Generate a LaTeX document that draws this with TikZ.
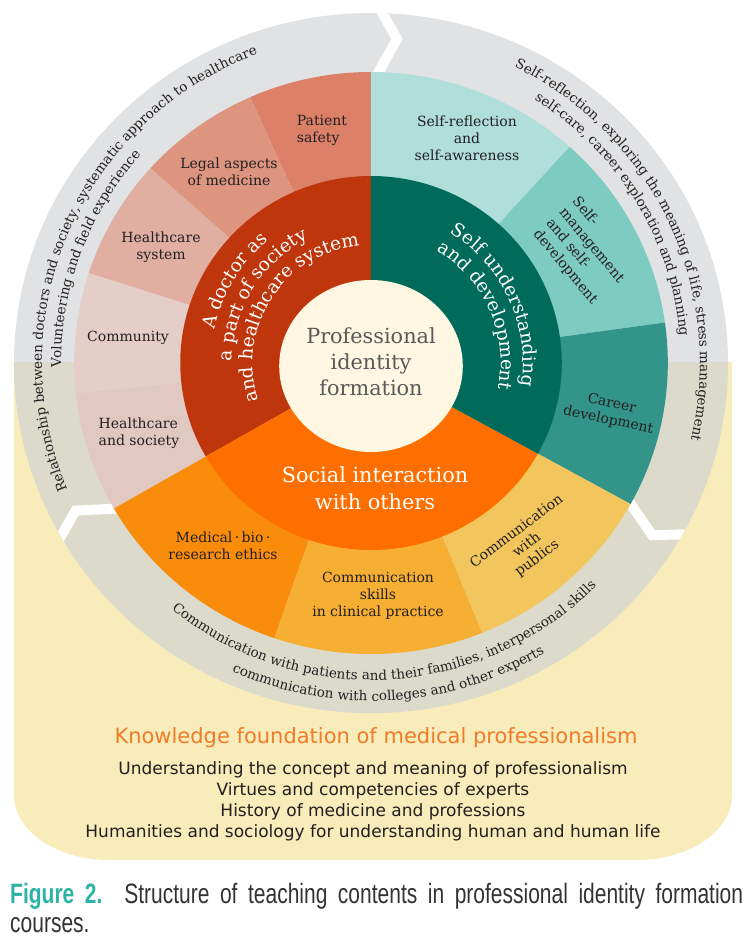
\documentclass[tikz,border=0pt]{standalone}
\usepackage{fontspec}
\setmainfont{DejaVu Serif}
\newfontfamily\slabfont{DejaVu Serif}
\newfontfamily\pifsans{DejaVu Sans}
\newfontfamily\capfont[FakeStretch=0.75]{Liberation Sans}
\usetikzlibrary{decorations.text}
\definecolor{pifRingGray}{HTML}{E1E2E4}
\definecolor{pifRingLow}{HTML}{DCDACB}
\definecolor{pifBeige}{HTML}{F8ECBA}
\definecolor{pifSafety}{HTML}{DC8068}
\definecolor{pifLegal}{HTML}{DD9580}
\definecolor{pifSystem}{HTML}{E0AFA1}
\definecolor{pifCommunity}{HTML}{E6CEC8}
\definecolor{pifSociety}{HTML}{E1C9C1}
\definecolor{pifRedDark}{HTML}{BF360C}
\definecolor{pifReflect}{HTML}{B0DEDA}
\definecolor{pifManage}{HTML}{7ECBC1}
\definecolor{pifCareer}{HTML}{33958A}
\definecolor{pifTealDark}{HTML}{006B5B}
\definecolor{pifEthics}{HTML}{F98D0B}
\definecolor{pifSkills}{HTML}{F6AE33}
\definecolor{pifPublics}{HTML}{F2C55D}
\definecolor{pifOrangeDark}{HTML}{FE6F00}
\definecolor{pifCream}{HTML}{FFF7E1}
\definecolor{pifInk}{HTML}{231F20}
\definecolor{pifCoreText}{HTML}{595959}
\definecolor{pifHeading}{HTML}{F07B28}
\definecolor{pifCaption}{HTML}{2BB3A6}
\definecolor{pifCaptionText}{HTML}{333333}
\newcommand{\pifRingFont}{\slabfont\fontsize{13.5}{15}\selectfont\color{pifInk}}
\newcommand{\pifInnerFont}{\slabfont\fontsize{18.5}{20}\selectfont\color{white}}
% annular sector: colour, start angle, end angle, inner radius, outer radius
\newcommand{\pifsector}[5]{\fill[#1] (#2:#4) arc[start angle=#2, end angle=#3, radius=#4] -- (#3:#5) arc[start angle=#3, end angle=#2, radius=#5] -- cycle;}
% white chevron cut into the outer ring
\newcommand{\pifchevron}[1]{\draw[white, line width=10pt] (#1:282pt) -- (#1-4:325pt) -- (#1:364pt);}
\tikzset{
  seglabel/.style={font=\slabfont\fontsize{14}{17}\selectfont, text=pifInk, align=center, inner sep=0pt},
  corelabel/.style={font=\slabfont\fontsize{20.8}{26}\selectfont, text=pifCoreText, align=center, inner sep=0pt},
  sociallabel/.style={font=\slabfont\fontsize{20.8}{27}\selectfont, text=white, align=center, inner sep=0pt},
  curvetext/.style={decorate, decoration={text along path, text align=center, text={#1}}},
  headline/.style={font=\pifsans\fontsize{21}{24}\selectfont, text=pifHeading, inner sep=0pt},
  topiclines/.style={font=\pifsans\fontsize{17}{21}\selectfont, text=pifInk, align=center, inner sep=0pt},
  captionline/.style={font=\capfont\fontsize{28}{30}\selectfont, text=pifCaptionText, inner sep=0pt, anchor=base west}
}
\begin{document}
\begin{tikzpicture}[x=1pt, y=1pt]
  \useasboundingbox (-371,363) rectangle (382,-575);

  % knowledge foundation panel
  \fill[pifBeige] (-357,1) -- (-357,-432) arc[start angle=180, end angle=270, x radius=95pt, y radius=65pt]
    -- (266,-497) arc[start angle=270, end angle=360, x radius=95pt, y radius=65pt] -- (361,1) -- cycle;

  \begin{scope}[xscale=1.02]
    % outer ring
    \fill[pifRingGray] (0,0) circle[radius=350pt];
    \begin{scope}
      \clip (-400,1) rectangle (400,-400);
      \fill[pifRingLow] (0,0) circle[radius=350pt];
    \end{scope}
    \begin{scope}
      \clip (0,0) circle[radius=350pt];
      \pifchevron{89.5}
      \pifchevron{-28}
      \pifchevron{211}
    \end{scope}

    % outer segments
    \pifsector{pifSafety}{90}{114}{186pt}{291pt}
    \pifsector{pifLegal}{114}{138}{186pt}{291pt}
    \pifsector{pifSystem}{138}{162}{186pt}{291pt}
    \pifsector{pifCommunity}{162}{186}{186pt}{291pt}
    \pifsector{pifSociety}{186}{210}{186pt}{291pt}
    \pifsector{pifReflect}{48}{90}{186pt}{291pt}
    \pifsector{pifManage}{8}{48}{186pt}{291pt}
    \pifsector{pifCareer}{-29}{8}{186pt}{291pt}
    \pifsector{pifEthics}{210}{251}{186pt}{291pt}
    \pifsector{pifSkills}{251}{292}{186pt}{291pt}
    \pifsector{pifPublics}{292}{331}{186pt}{291pt}

    % inner ring
    \fill[pifRedDark] (0,0) -- (90:187pt) arc[start angle=90, end angle=210, radius=187pt] -- cycle;
    \fill[pifOrangeDark] (0,0) -- (210:187pt) arc[start angle=210, end angle=331, radius=187pt] -- cycle;
    \fill[pifTealDark] (0,0) -- (-29:187pt) arc[start angle=-29, end angle=90, radius=187pt] -- cycle;
    \fill[pifCream] (0,-3) ellipse[x radius=90pt, y radius=86pt];
  \end{scope}

  % texts along the outer ring
  \path[curvetext={|\pifRingFont|Relationship between doctors and society, systematic approach to healthcare}]
    (226.4:329pt) arc[start angle=226.4, end angle=86.4, radius=329pt];
  \path[curvetext={|\pifRingFont|Volunteering and field experience}]
    (219.4:310pt) arc[start angle=219.4, end angle=99.4, radius=310pt];
  \path[curvetext={|\pifRingFont|Self-reflection, exploring the meaning of life, stress management}]
    (95.3:329pt) arc[start angle=95.3, end angle=-44.7, radius=329pt];
  \path[curvetext={|\pifRingFont|self-care, career exploration and planning}]
    (91.6:310pt) arc[start angle=91.6, end angle=-28.4, radius=310pt];
  \path[curvetext={|\pifRingFont|Communication with patients and their families, interpersonal skills}]
    (203.2:317pt) arc[start angle=203.2, end angle=343.2, radius=317pt];
  \path[curvetext={|\pifRingFont|communication with colleges and other experts}]
    (213.3:338pt) arc[start angle=213.3, end angle=333.3, radius=338pt];

  % texts along the inner ring
  \path[curvetext={|\pifInnerFont|A doctor as}]
    (209:160pt) arc[start angle=209, end angle=89, radius=160pt];
  \path[curvetext={|\pifInnerFont|a part of society}]
    (218:139pt) arc[start angle=218, end angle=78, radius=139pt];
  \path[curvetext={|\pifInnerFont|and healthcare system}]
    (217:118pt) arc[start angle=217, end angle=77, radius=118pt];
  \path[curvetext={|\pifInnerFont|Self understanding}]
    (95:152pt) arc[start angle=95, end angle=-45, radius=152pt];
  \path[curvetext={|\pifInnerFont|and development}]
    (94:130pt) arc[start angle=94, end angle=-46, radius=130pt];

  % segment labels
  \node[seglabel, align=left] (safety) at (-49,233) {Patient\\safety};
  \node[seglabel] (legal) at (-142,191) {Legal aspects\\of medicine};
  \node[seglabel] (hcsystem) at (-210,116) {Healthcare\\system};
  \node[seglabel] (community) at (-243,25) {Community};
  \node[seglabel, align=left] (hcsociety) at (-232,-70) {Healthcare\\and society};
  \node[seglabel] (reflect) at (96,225) {Self-reflection\\and\\self-awareness};
  \node[seglabel, align=left, rotate=-50] (manage) at (214,112) {Self-\\management\\and self-\\development};
  \node[seglabel, rotate=-12] (career) at (239,-49) {Career\\development};
  \node[seglabel] (ethics) at (-148,-183) {Medical\,·\,bio\,·\\research ethics};
  \node[seglabel] (skills) at (7,-233) {Communication\\skills\\in clinical practice};
  \node[seglabel, rotate=37] (publics) at (156,-182) {Communication\\with\\publics};

  % centre and social interaction
  \node[corelabel] (core) at (0,1) {Professional\\identity\\formation};
  \node[sociallabel] (social) at (4,-125) {Social interaction\\with others};

  % knowledge foundation
  \node[headline] (heading) at (5,-375) {Knowledge foundation of medical professionalism};
  \node[topiclines] (topics) at (2,-438) {Understanding the concept and meaning of professionalism\\Virtues and competencies of experts\\History of medicine and professions\\Humanities and sociology for understanding human and human life};

  % caption
  \node[captionline] (caption) at (-361,-540) {\makebox[733pt][s]{\textcolor{pifCaption}{\bfseries Figure 2.} Structure of teaching contents in professional identity formation}};
  \node[captionline] (captionend) at (-361,-569) {courses.};
\end{tikzpicture}
\end{document}
